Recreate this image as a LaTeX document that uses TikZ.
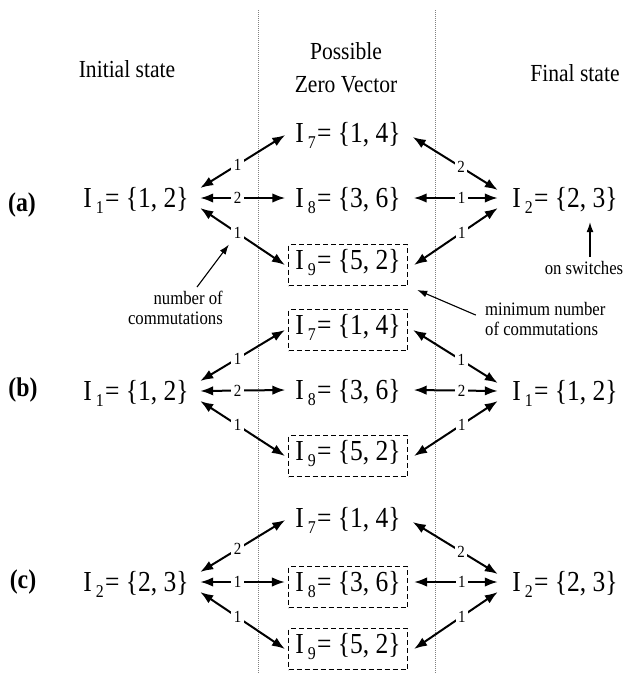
\documentclass[tikz,border=0pt]{standalone}
\usepackage{fontspec}
\setmainfont{Liberation Serif}[FakeStretch=0.88]
\usetikzlibrary{arrows.meta}
\newcommand{\Isb}[1]{I\kern4pt\raisebox{-5.5pt}{\fontsize{18}{18}\selectfont #1}\kern1.5pt}
\newcommand{\Wbox}[2]{\makebox[#1]{#2}}
\begin{document}
\begin{tikzpicture}[x=1pt,y=-1pt,
  txt/.style={font=\fontsize{29}{29}\selectfont, inner ysep=0pt, text height=21.5pt, text depth=2.5pt},
  lnode/.style={txt, inner xsep=10pt},
  rnode/.style={txt, inner xsep=10pt},
  mnode/.style={txt, text height=22pt, text depth=13pt, inner xsep=5.5pt, minimum height=41pt},
  dbox/.style={draw, line width=1.1pt, dash pattern=on 5pt off 3pt},
  conn/.style={line width=2pt, {Latex[length=13pt,width=9.5pt]}-{Latex[length=13pt,width=9.5pt]}},
  lbl/.style={fill=white, inner sep=2.5pt, font=\fontsize{17}{17}\selectfont},
  head/.style={font=\fontsize{24.5}{33}\selectfont, inner sep=0pt, align=center},
  ann/.style={font=\fontsize{19}{20.5}\selectfont, inner sep=0pt},
  pointer/.style={line width=1.1pt, -{Latex[length=10pt,width=7pt]}},
  sepline/.style={line width=0.7pt, gray, dash pattern=on 0.8pt off 1.2pt},
  tag/.style={font=\fontsize{27}{27}\selectfont\bfseries, inner sep=0pt}
]
\useasboundingbox (0,0) rectangle (624,673);
\fill[white] (0,0) rectangle (624,673);

% column separators
\draw[sepline] (258,10) -- (258,673);
\draw[sepline] (435,10) -- (435,673);

% headings
\node[head] (hinit) at (127,69) {Initial state};
\node[head] (hzero) at (346,68) {Possible\\Zero Vector};
\node[head] (hfinal) at (575,73) {Final state};

% row tags
\node[tag] (ta) at (22,205) {(a)};
\node[tag] (tb) at (23,390) {(b)};
\node[tag] (tc) at (23,582) {(c)};

% ---------- row (a)
\node[lnode] (La) at (136,198) {\Wbox{108pt}{\Isb{1} = \{1, 2\}}};
\node[rnode] (Ra) at (565,198) {\Wbox{114pt}{\Isb{2} = \{2, 3\}}};
\node[mnode] (Ma7) at (348,138) {\Wbox{108pt}{\Isb{7}= \{1, 4\}}};
\node[mnode] (Ma8) at (348,203) {\Wbox{108pt}{\Isb{8}= \{3, 6\}}};
\node[mnode,dbox] (Ma9) at (348,265) {\Wbox{108pt}{\Isb{9}= \{5, 2\}}};
\draw[conn] ([yshift=10pt]La.east) -- node[lbl,pos=.44]{1} ([xshift=-3pt,yshift=3pt]Ma7.west);
\draw[conn] (La.east) -- node[lbl,pos=.44]{2} ([xshift=-3pt,yshift=5pt]Ma8.west);
\draw[conn] ([yshift=-10pt]La.east) -- node[lbl,pos=.44] (la3) {1} ([xshift=-3pt]Ma9.west);
\draw[conn] ([xshift=5pt,yshift=1pt]Ma7.east) -- node[lbl,pos=.57]{2} ([yshift=8pt]Ra.west);
\draw[conn] ([xshift=6pt,yshift=5pt]Ma8.east) -- node[lbl,pos=.57]{1} (Ra.west);
\draw[conn] ([xshift=6pt]Ma9.east) -- node[lbl,pos=.57]{1} ([yshift=-10pt]Ra.west);

% ---------- row (b)
\node[lnode] (Lb) at (136,391) {\Wbox{108pt}{\Isb{1} = \{1, 2\}}};
\node[rnode] (Rb) at (565,391) {\Wbox{114pt}{\Isb{1} = \{1, 2\}}};
\node[mnode,dbox] (Mb7) at (348,330) {\Wbox{108pt}{\Isb{7}= \{1, 4\}}};
\node[mnode] (Mb8) at (348,395) {\Wbox{108pt}{\Isb{8}= \{3, 6\}}};
\node[mnode,dbox] (Mb9) at (348,456) {\Wbox{108pt}{\Isb{9}= \{5, 2\}}};
\draw[conn] ([yshift=10pt]Lb.east) -- node[lbl,pos=.44]{1} ([xshift=-3pt]Mb7.west);
\draw[conn] (Lb.east) -- node[lbl,pos=.44]{2} ([xshift=-3pt,yshift=5pt]Mb8.west);
\draw[conn] ([yshift=-10pt]Lb.east) -- node[lbl,pos=.44]{1} ([xshift=-3pt]Mb9.west);
\draw[conn] ([xshift=5pt]Mb7.east) -- node[lbl,pos=.57]{1} ([yshift=8pt]Rb.west);
\draw[conn] ([xshift=6pt,yshift=5pt]Mb8.east) -- node[lbl,pos=.57]{2} (Rb.west);
\draw[conn] ([xshift=6pt]Mb9.east) -- node[lbl,pos=.57]{1} ([yshift=-10pt]Rb.west);

% ---------- row (c)
\node[lnode] (Lc) at (136,582) {\Wbox{108pt}{\Isb{2} = \{2, 3\}}};
\node[rnode] (Rc) at (565,582) {\Wbox{114pt}{\Isb{2} = \{2, 3\}}};
\node[mnode] (Mc7) at (348,523) {\Wbox{108pt}{\Isb{7}= \{1, 4\}}};
\node[mnode,dbox] (Mc8) at (348,587) {\Wbox{108pt}{\Isb{8}= \{3, 6\}}};
\node[mnode,dbox] (Mc9) at (348,649) {\Wbox{108pt}{\Isb{9}= \{5, 2\}}};
\draw[conn] ([yshift=10pt]Lc.east) -- node[lbl,pos=.44]{2} ([xshift=-3pt,yshift=3pt]Mc7.west);
\draw[conn] (Lc.east) -- node[lbl,pos=.44]{1} ([xshift=-3pt,yshift=5pt]Mc8.west);
\draw[conn] ([yshift=-10pt]Lc.east) -- node[lbl,pos=.44]{1} ([xshift=-3pt]Mc9.west);
\draw[conn] ([xshift=5pt,yshift=1pt]Mc7.east) -- node[lbl,pos=.57]{2} ([yshift=8pt]Rc.west);
\draw[conn] ([xshift=6pt,yshift=5pt]Mc8.east) -- node[lbl,pos=.57]{1} (Rc.west);
\draw[conn] ([xshift=6pt]Mc9.east) -- node[lbl,pos=.57]{1} ([yshift=-10pt]Rc.west);

% ---------- annotations
\node[ann, align=right, anchor=east] (ncom) at (223,308) {number of\\commutations};
\node[ann, align=left, anchor=west] (mnc) at (485,319) {minimum number\\of commutations};
\node[ann] (osw) at (584,268) {on switches};
\coordinate (ncomtail) at (197,287);
\draw[pointer, shorten >=3pt] (ncomtail) -- (la3);
\draw[pointer, shorten <=10pt, shorten >=10pt] (mnc.west) -- (Ma9.south east);
\draw[pointer, shorten <=4pt, shorten >=12pt] ([xshift=6pt]osw.north) -- ([xshift=6pt]osw.north |- Ra.south);
\end{tikzpicture}
\end{document}
